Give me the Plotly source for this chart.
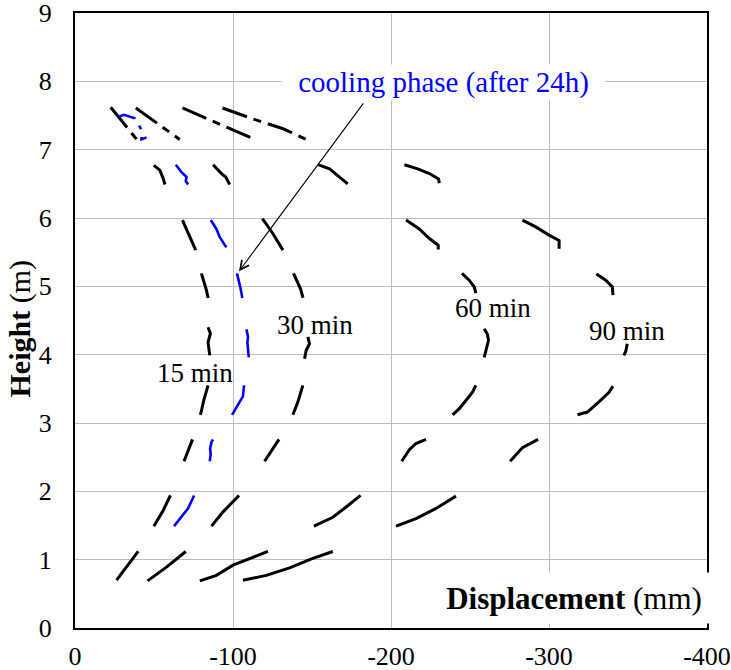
import plotly.graph_objects as go

# ---- data (displacement in mm, height in m); None separates level segments ----
x_15 = [-26.3, -32.7, -40.0, None,
        -49.9, -55.8, -60.4, None,
        -69.0, -71.6, -74.4, None,
        -79.4, -81.5, -84.2, None,
        -84.2, -85.7, -84.2, -85.3, None,
        -80.0, -82.1, -83.2, -84.2, None,
        -68.0, -72.6, -76.4, None,
        -49.9, -53.7, -55.8, -56.9]
y_15 = [0.70, 0.90, 1.12, None,
        1.49, 1.72, 1.94, None,
        2.44, 2.60, 2.76, None,
        3.12, 3.33, 3.55, None,
        4.40, 4.31, 4.18, 3.99, None,
        5.19, 5.04, 4.94, 4.83, None,
        5.97, 5.72, 5.53, None,
        6.77, 6.70, 6.58, 6.49]

x_30 = [-45.9, -57.9, -70.1, None,
        -86.4, -93.7, -103.8, None,
        -120.0, -124.3, -129.1, None,
        -137.9, -141.1, -144.2, None,
        -147.4, -148.4, -146.3, -145.3, None,
        -138.3, -141.1, -142.8, -144.3, None,
        -118.6, -125.3, -131.6, None,
        -87.4, -92.7, -95.4, -97.9]
y_30 = [0.69, 0.89, 1.12, None,
        1.49, 1.70, 1.94, None,
        2.44, 2.60, 2.76, None,
        3.12, 3.31, 3.55, None,
        4.26, 4.16, 4.06, 3.94, None,
        5.19, 5.06, 4.96, 4.83, None,
        5.99, 5.77, 5.53, None,
        6.78, 6.65, 6.60, 6.49]

x_60 = [-79.0, -89.5, -100.0, -112.6, -122.1, None,
        -151.2, -163.2, -171.6, -180.7, None,
        -206.8, -209.5, -211.6, -215.8, -222.2, None,
        -239.0, -243.2, -247.4, -251.6, -253.7, None,
        -259.0, -261.0, -261.7, -260.5, -259.0, None,
        -244.9, -249.5, -252.7, -253.7, None,
        -209.5, -217.9, -224.3, -229.9, -229.9, None,
        -153.7, -161.1, -166.3, -172.6]
y_60 = [0.69, 0.77, 0.92, 1.04, 1.12, None,
        1.49, 1.62, 1.77, 1.94, None,
        2.44, 2.53, 2.61, 2.70, 2.76, None,
        3.12, 3.21, 3.33, 3.45, 3.55, None,
        4.38, 4.30, 4.21, 4.08, 3.96, None,
        5.19, 5.09, 4.99, 4.90, None,
        5.97, 5.84, 5.70, 5.60, 5.54, None,
        6.78, 6.72, 6.62, 6.50]

x_90 = [-106.3, -121.1, -135.8, -150.5, -163.2, None,
        -203.2, -215.8, -228.5, -241.1, None,
        -275.4, -281.1, -283.2, -287.4, -293.1, None,
        -318.0, -324.3, -331.6, -338.0, -340.5, None,
        -349.5, -348.6, -347.4, None,
        -330.0, -335.9, -340.1, -340.5, None,
        -283.2, -291.6, -300.0, -306.4, -306.4, None,
        -208.5, -216.9, -224.3, -230.1, -230.6]
y_90 = [0.70, 0.77, 0.88, 1.02, 1.12, None,
        1.49, 1.60, 1.75, 1.93, None,
        2.44, 2.58, 2.64, 2.69, 2.76, None,
        3.12, 3.16, 3.31, 3.45, 3.54, None,
        4.16, 4.05, 3.99, None,
        5.18, 5.09, 4.99, 4.87, None,
        5.97, 5.87, 5.75, 5.67, 5.55, None,
        6.78, 6.72, 6.65, 6.57, 6.51]

x_cool = [-62.7, -67.4, -71.6, -75.4, None,
          -85.3, -85.9, -85.5, -86.5, -87.4, None,
          -99.4, -103.2, -106.3, -107.0, None,
          -108.5, -109.5, -109.1, -110.0, None,
          -102.5, -103.8, -104.7, -105.9, None,
          -85.9, -89.5, -91.6, -95.8, None,
          -63.8, -67.4, -70.6, -70.1, -71.6]
y_cool = [1.49, 1.62, 1.75, 1.94, None,
          2.44, 2.55, 2.63, 2.73, 2.76, None,
          3.12, 3.26, 3.39, 3.55, None,
          4.37, 4.26, 4.18, 3.96, None,
          5.19, 5.08, 4.98, 4.83, None,
          5.97, 5.84, 5.72, 5.57, None,
          6.78, 6.67, 6.60, 6.54, 6.49]

# top level (dash-dot)
x_top = [[-22.6, -31.0, -39.4],
         [-38.5, -52.0, -66.3],
         [-68.0, -91.0, -113.8],
         [-93.3, -112.6, -131.2, -146.4]]
y_top = [[7.62, 7.38, 7.14],
         [7.61, 7.38, 7.15],
         [7.61, 7.38, 7.15],
         [7.61, 7.45, 7.31, 7.15]]
x_top_cool = [-27.4, -31.0, -37.9, -42.1, -42.1, -45.3]
y_top_cool = [7.48, 7.51, 7.46, 7.29, 7.15, 7.18]

x_ticks = [0, -100, -200, -300, -400]
y_ticks = [0, 1, 2, 3, 4, 5, 6, 7, 8, 9]

FONT = "Liberation Serif"
BLACK = "#000000"
BLUE = "#0000FF"

fig = go.Figure()
for xs, ys in [(x_15, y_15), (x_30, y_30), (x_60, y_60), (x_90, y_90)]:
    fig.add_trace(go.Scatter(x=xs, y=ys, mode="lines", connectgaps=False,
                             line=dict(color=BLACK, width=3, dash="solid"),
                             showlegend=False, hoverinfo="skip"))
fig.add_trace(go.Scatter(x=x_cool, y=y_cool, mode="lines", connectgaps=False,
                         line=dict(color=BLUE, width=2.6, dash="solid"),
                         showlegend=False, hoverinfo="skip"))
for xs, ys in zip(x_top, y_top):
    fig.add_trace(go.Scatter(x=xs, y=ys, mode="lines",
                             line=dict(color=BLACK, width=3, dash="26px,7px,8px,7px"),
                             showlegend=False, hoverinfo="skip"))
fig.add_trace(go.Scatter(x=x_top_cool, y=y_top_cool, mode="lines",
                         line=dict(color=BLUE, width=2.6, dash="18px,8px,4px,8px"),
                         showlegend=False, hoverinfo="skip"))

annotations = [
    # arrow
    dict(x=-103.8, y=5.22, ax=-183.2, ay=7.70, xref="x", yref="y", axref="x", ayref="y",
         text="", showarrow=True, arrowhead=5, arrowsize=1.6, arrowwidth=1.1,
         arrowcolor=BLACK, standoff=0, startstandoff=0),
    dict(x=0.583, y=0.887, xref="paper", yref="paper", text="cooling phase (after 24h)",
         showarrow=False, font=dict(family=FONT, size=29, color=BLUE),
         bgcolor="white", width=323, height=35, borderpad=0,
         xanchor="center", yanchor="middle"),
    dict(x=0.190, y=0.415, xref="paper", yref="paper", text="15 min", showarrow=False,
         font=dict(family=FONT, size=27, color=BLACK), xanchor="center", yanchor="middle"),
    dict(x=0.380, y=0.493, xref="paper", yref="paper", text="30 min", showarrow=False,
         font=dict(family=FONT, size=27, color=BLACK), xanchor="center", yanchor="middle"),
    dict(x=0.662, y=0.520, xref="paper", yref="paper", text="60 min", showarrow=False,
         font=dict(family=FONT, size=27, color=BLACK), xanchor="center", yanchor="middle"),
    dict(x=0.873, y=0.483, xref="paper", yref="paper", text="90 min", showarrow=False,
         font=dict(family=FONT, size=27, color=BLACK), xanchor="center", yanchor="middle"),
    dict(x=0.79, y=0.049, xref="paper", yref="paper", text="<b>Displacement</b> (mm)",
         showarrow=False, font=dict(family=FONT, size=31, color=BLACK),
         bgcolor="white", width=272, height=50, borderpad=0,
         xanchor="center", yanchor="middle"),
    dict(x=0, y=0.487, xref="paper", yref="paper", text="<b>Height</b> (m)",
         showarrow=False, textangle=-90, xshift=-55,
         font=dict(family=FONT, size=30, color=BLACK), xanchor="center", yanchor="middle"),
]

fig.update_layout(
    width=731, height=670,
    margin=dict(l=75, r=24, t=13, b=42, pad=0, autoexpand=False),
    paper_bgcolor="white", plot_bgcolor="white",
    font=dict(family=FONT, size=26, color=BLACK),
    annotations=annotations,
)
fig.update_xaxes(range=[0, -400], tickvals=x_ticks, ticktext=[str(v) for v in x_ticks],
                 showgrid=True, gridcolor="#bdbdbd", gridwidth=1,
                 showline=True, linecolor=BLACK, linewidth=2, mirror=True,
                 ticks="", zeroline=False, tickfont=dict(family=FONT, size=26),
                 ticklabelstandoff=4, ticklabeloverflow="allow",
                 automargin=False, layer="above traces")
fig.update_yaxes(range=[0, 9], tickvals=y_ticks,
                 showgrid=True, gridcolor="#bdbdbd", gridwidth=1,
                 showline=True, linecolor=BLACK, linewidth=2, mirror=True,
                 ticks="", zeroline=False, tickfont=dict(family=FONT, size=26),
                 ticklabelstandoff=16, ticklabeloverflow="allow",
                 automargin=False, layer="above traces")

fig.write_html("out.html", config={"displayModeBar": False},
               post_script="document.body.style.margin='0';document.body.style.overflow='hidden';")
